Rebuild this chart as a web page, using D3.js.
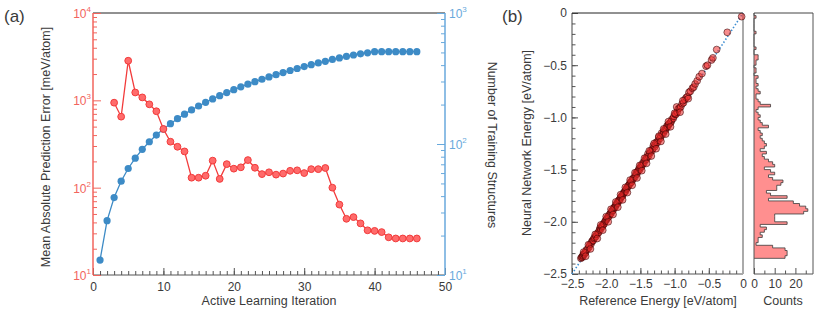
<!DOCTYPE html>
<html>
<head>
<meta charset="utf-8">
<script src="https://cdn.jsdelivr.net/npm/d3@7"></script>
<style>
body { margin: 0; background: #fff; }
svg text { font-family: "Liberation Sans", Arial, Helvetica, sans-serif; }
</style>
</head>
<body>
<svg id="chart" width="831" height="315"></svg>
<script>
// ---- data, panel (a) ----
const errIter = [3, 4, 5, 6, 7, 8, 9, 10, 11, 12, 13, 14, 15, 16, 17, 18, 19, 20, 21, 22, 23, 24,
    25, 26, 27, 28, 29, 30, 31, 32, 33, 34, 35, 36, 37, 38, 39, 40, 41, 42, 43, 44, 45, 46];
const errValues = [940, 650, 2840, 1230, 1080, 900, 750, 470, 336, 294, 260, 130, 130, 137, 204, 126,
    186, 165, 171, 207, 169, 143, 150, 141, 145, 156, 158, 147, 163, 163, 168, 100, 64, 44, 46, 39,
    32.5, 32, 31, 27, 26.2, 26.2, 26.2, 26.2];
const trainIter = [1, 2, 3, 4, 5, 6, 7, 8, 9, 10, 11, 12, 13, 14, 15, 16, 17, 18, 19, 20, 21, 22, 23,
    24, 25, 26, 27, 28, 29, 30, 31, 32, 33, 34, 35, 36, 37, 38, 39, 40, 41, 42, 43, 44, 45, 46];
const trainCount = [13, 26, 39, 52, 65, 78, 91, 104, 117, 130, 143, 156, 169, 182, 195, 208, 221, 234,
    247, 260, 273, 286, 299, 312, 325, 338, 351, 364, 377, 390, 403, 416, 428, 442, 454, 466, 478, 488,
    497, 507, 507, 507, 507, 507, 507, 507];
const iterTicks = [0, 10, 20, 30, 40, 50];
const errTicks = [10, 100, 1000, 10000];
const countTicks = [10, 100, 1000];

// ---- data, panel (b) ----
const refE = [-2.37, -2.36, -2.35, -2.34, -2.34, -2.33, -2.32, -2.31, -2.30, -2.29, -2.27, -2.25, -2.24,
    -2.22, -2.21, -2.20, -2.19, -2.18, -2.17, -2.15, -2.14, -2.12, -2.11, -2.10, -2.09, -2.08, -2.07,
    -2.06, -2.05, -2.04, -2.03, -2.02, -2.01, -2.00, -1.99, -1.98, -1.97, -1.96, -1.95, -1.94, -1.93,
    -1.92, -1.91, -1.90, -1.89, -1.88, -1.87, -1.86, -1.85, -1.84, -1.83, -1.82, -1.81, -1.80, -1.79,
    -1.78, -1.77, -1.76, -1.75, -1.74, -1.73, -1.72, -1.71, -1.70, -1.69, -1.68, -1.67, -1.66, -1.65,
    -1.64, -1.63, -1.62, -1.61, -1.60, -1.58, -1.57, -1.56, -1.55, -1.54, -1.53, -1.52, -1.51, -1.50,
    -1.49, -1.48, -1.47, -1.46, -1.45, -1.43, -1.42, -1.41, -1.40, -1.39, -1.38, -1.36, -1.35, -1.33,
    -1.32, -1.31, -1.29, -1.28, -1.27, -1.25, -1.24, -1.23, -1.21, -1.20, -1.19, -1.17, -1.16, -1.15,
    -1.13, -1.12, -1.11, -1.10, -1.09, -1.08, -1.06, -1.05, -1.04, -1.02, -1.01, -0.99, -0.98, -0.96,
    -0.95, -0.97, -0.93, -0.91, -0.89, -0.87, -0.85, -0.83, -0.81, -0.79, -0.77, -0.74, -0.72, -0.70,
    -0.67, -0.64, -0.60, -0.54, -0.52, -0.46, -0.44, -0.385, -0.23, -0.02,
    -2.33, -2.30, -2.26, -2.23, -2.16, -2.13, -2.08, -2.05, -2.00, -1.97, -1.93, -1.90, -1.86, -1.83,
    -1.79, -1.76, -1.72, -1.69, -1.65, -1.62, -1.58, -1.55, -1.51, -1.48, -1.44, -1.41, -1.37, -1.34,
    -1.30, -1.27, -1.23, -1.20, -1.16, -1.13, -1.09, -1.06, -1.00, -0.92, -0.88, -0.80];
const nnE = [-2.35, -2.34, -2.34, -2.33, -2.32, -2.31, -2.31, -2.30, -2.29, -2.27, -2.26, -2.24, -2.22,
    -2.21, -2.19, -2.18, -2.18, -2.16, -2.15, -2.14, -2.12, -2.11, -2.10, -2.08, -2.06, -2.07, -2.05,
    -2.04, -2.04, -2.02, -2.02, -2.00, -1.99, -1.98, -1.97, -1.96, -1.95, -1.95, -1.93, -1.92, -1.92,
    -1.90, -1.89, -1.89, -1.87, -1.86, -1.86, -1.84, -1.83, -1.82, -1.82, -1.80, -1.79, -1.79, -1.77,
    -1.76, -1.75, -1.75, -1.73, -1.72, -1.71, -1.71, -1.69, -1.68, -1.67, -1.66, -1.65, -1.64, -1.63,
    -1.62, -1.62, -1.60, -1.59, -1.58, -1.57, -1.55, -1.53, -1.54, -1.52, -1.51, -1.49, -1.50, -1.48,
    -1.46, -1.47, -1.45, -1.43, -1.44, -1.41, -1.39, -1.40, -1.38, -1.35, -1.37, -1.34, -1.32, -1.32,
    -1.30, -1.27, -1.28, -1.26, -1.24, -1.24, -1.22, -1.19, -1.20, -1.18, -1.15, -1.16, -1.14, -1.12,
    -1.12, -1.10, -1.08, -1.09, -1.07, -1.06, -1.05, -1.04, -1.02, -1.01, -0.99, -0.97, -0.97, -0.95,
    -0.92, -0.90, -0.91, -0.90, -0.87, -0.86, -0.83, -0.81, -0.80, -0.76, -0.75, -0.72, -0.71, -0.68,
    -0.65, -0.61, -0.58, -0.51, -0.50, -0.45, -0.43, -0.35, -0.185, -0.035,
    -2.29, -2.33, -2.22, -2.26, -2.12, -2.16, -2.03, -2.08, -1.95, -2.00, -1.88, -1.93, -1.81, -1.86,
    -1.74, -1.79, -1.67, -1.72, -1.60, -1.65, -1.53, -1.58, -1.46, -1.51, -1.39, -1.44, -1.32, -1.37,
    -1.25, -1.30, -1.18, -1.23, -1.11, -1.16, -1.04, -1.09, -0.96, -0.95, -0.84, -0.82];
// histogram of NN energies, bins of 0.025 eV from 0 downwards
const histBinWidth = 0.025;
const histCounts = [0, 1, 0, 0, 0, 0, 0, 1, 0, 0, 0, 0, 0, 1, 0, 0, 2, 2, 1, 1, 0, 1, 1, 0, 2, 1, 1, 2,
    1, 2, 3, 1, 1, 2, 3, 8, 2, 1, 2, 3, 2, 3, 4, 7, 2, 3, 4, 3, 4, 5, 6, 5, 3, 6, 4, 5, 7, 9, 10, 5, 8,
    10, 7, 9, 14, 13, 11, 11, 6, 8, 16, 7, 19, 22, 25, 26, 24, 10, 10, 10, 16, 3, 6, 5, 3, 4, 2, 2, 1,
    9, 15, 16, 16, 15];
const energyTicks = [-2.5, -2, -1.5, -1, -0.5, 0];
const histTicks = [0, 10, 20];

// ---- colours ----
const red = "#f2645d";
const redLine = "#f23b3b";
const redDot = "#ff6b6b";
const blue = "#3d8bc6";
const blueAxis = "#68a9dc";
const ink = "#3a3a3a";

const svg = d3.select("#chart");

const fmtE = d => d === 0 ? "0" : d3.format(".1f")(d).replace("-", "\u2212");

function styleAxis(g, color, textColor) {
    g.select(".domain").remove();
    g.selectAll(".tick line").attr("stroke", color);
    g.selectAll(".tick text").attr("fill", textColor || ink).attr("font-size", 12)
        .attr("font-family", '"Liberation Sans", Arial, sans-serif');
    return g;
}

function spine(x1, y1, x2, y2, color, w) {
    svg.append("line").attr("x1", x1).attr("y1", y1).attr("x2", x2).attr("y2", y2)
        .attr("stroke", color).attr("stroke-width", w || 1);
}

function powLabels(ticks, scale, x, anchor, color) {
    svg.append("g").selectAll("text").data(ticks).join("text")
        .attr("x", x).attr("y", d => scale(d) + 5)
        .attr("text-anchor", anchor).attr("fill", color).attr("font-size", 12)
        .each(function(d) {
            const t = d3.select(this);
            t.append("tspan").text("10");
            t.append("tspan").attr("dy", -6).attr("font-size", 8).text(Math.round(Math.log10(d)));
        });
}

const logMinor = (lo, hi) => d3.range(lo, hi).flatMap(e => [2, 3, 4, 5, 6, 7, 8, 9].map(m => m * 10 ** e));

// ================= panel (a) =================
const xA = d3.scaleLinear().domain([0, 50]).range([93, 445]);
const yErr = d3.scaleLog().domain([10, 1e4]).range([275, 13]);
const yCnt = d3.scaleLog().domain([10, 1000]).range([275, 13]);

// bottom axis
styleAxis(svg.append("g").attr("transform", "translate(0,275)")
    .call(d3.axisBottom(xA).tickValues(d3.range(0, 51)).tickSize(-4).tickFormat("")), "#555");
styleAxis(svg.append("g").attr("transform", "translate(0,275)")
    .call(d3.axisBottom(xA).tickValues(iterTicks).tickSize(-7).tickPadding(7).tickFormat(d3.format("d"))), "#555");
spine(93, 275, 445, 275, "#555");
spine(93, 13, 445, 13, "#222");

// left (error) axis
styleAxis(svg.append("g").attr("transform", "translate(93,0)")
    .call(d3.axisLeft(yErr).tickValues(logMinor(1, 4)).tickSize(-4).tickFormat("")), red);
styleAxis(svg.append("g").attr("transform", "translate(93,0)")
    .call(d3.axisLeft(yErr).tickValues(errTicks).tickSize(-8).tickFormat("")), red);
spine(93, 13, 93, 275, red, 1.5);
powLabels(errTicks, yErr, 91, "end", red);

// right (count) axis
styleAxis(svg.append("g").attr("transform", "translate(445,0)")
    .call(d3.axisRight(yCnt).tickValues(logMinor(1, 3)).tickSize(-4).tickFormat("")), blueAxis);
styleAxis(svg.append("g").attr("transform", "translate(445,0)")
    .call(d3.axisRight(yCnt).tickValues(countTicks).tickSize(-8).tickFormat("")), blueAxis);
spine(445, 13, 445, 275, blueAxis, 1.5);
powLabels(countTicks, yCnt, 449, "start", blueAxis);

// training structures series
const trainPts = trainIter.map((d, i) => [d, trainCount[i]]);
svg.append("path").datum(trainPts)
    .attr("fill", "none").attr("stroke", blue).attr("stroke-width", 1.3)
    .attr("d", d3.line().x(d => xA(d[0])).y(d => yCnt(d[1])));
svg.append("g").selectAll("circle").data(trainPts).join("circle")
    .attr("cx", d => xA(d[0])).attr("cy", d => yCnt(d[1])).attr("r", 3.6)
    .attr("fill", blue);

// error series
const errPts = errIter.map((d, i) => [d, errValues[i]]);
svg.append("path").datum(errPts)
    .attr("fill", "none").attr("stroke", redLine).attr("stroke-width", 1.3)
    .attr("d", d3.line().x(d => xA(d[0])).y(d => yErr(d[1])));
svg.append("g").selectAll("circle").data(errPts).join("circle")
    .attr("cx", d => xA(d[0])).attr("cy", d => yErr(d[1])).attr("r", 3.4)
    .attr("fill", redDot).attr("stroke", redLine).attr("stroke-width", 1);

// titles
svg.append("text").attr("x", 269).attr("y", 305).attr("text-anchor", "middle")
    .attr("font-size", 12.5).attr("fill", ink).text("Active Learning Iteration");
svg.append("text").attr("transform", "translate(50,147) rotate(-90)").attr("text-anchor", "middle")
    .attr("font-size", 12.5).attr("fill", ink).text("Mean Absolute Prediction Error [meV/atom]");
svg.append("text").attr("transform", "translate(488,145) rotate(90)").attr("text-anchor", "middle")
    .attr("font-size", 12.5).attr("fill", ink).text("Number of Training Structures");
svg.append("text").attr("x", 4).attr("y", 22).attr("font-size", 17).attr("fill", ink).text("(a)");

// ================= panel (b) =================
const xB = d3.scaleLinear().domain([-2.5, 0]).range([572, 743]);
const yB = d3.scaleLinear().domain([-2.5, 0]).range([274, 13]);
const xH = d3.scaleLinear().domain([0, 28.5]).range([754, 813]);
const minorE = d3.range(-25, 1).map(d => d / 10);

styleAxis(svg.append("g").attr("transform", "translate(0,274)")
    .call(d3.axisBottom(xB).tickValues(minorE).tickSize(-3.5).tickFormat("")), "#555");
styleAxis(svg.append("g").attr("transform", "translate(0,274)")
    .call(d3.axisBottom(xB).tickValues(energyTicks).tickSize(-6).tickPadding(5).tickFormat(fmtE)), "#555");
styleAxis(svg.append("g").attr("transform", "translate(572,0)")
    .call(d3.axisLeft(yB).tickValues(minorE).tickSize(-3.5).tickFormat("")), "#555");
styleAxis(svg.append("g").attr("transform", "translate(572,0)")
    .call(d3.axisLeft(yB).tickValues(energyTicks).tickSize(-6).tickPadding(5).tickFormat(fmtE)), "#555");
spine(572, 13, 572, 274, "#444");
spine(572, 274, 743, 274, "#555");
spine(572, 13, 743, 13, "#222");
spine(743, 13, 743, 274, "#aaa", 2);

// parity line
svg.append("line")
    .attr("x1", xB(-2.5)).attr("y1", yB(-2.5)).attr("x2", xB(0)).attr("y2", yB(0))
    .attr("stroke", "#3f8fd2").attr("stroke-width", 1.6).attr("stroke-dasharray", "1.5,2");

// scatter points
svg.append("g").selectAll("circle").data(refE.map((d, i) => [d, nnE[i]])).join("circle")
    .attr("cx", d => xB(d[0])).attr("cy", d => yB(d[1])).attr("r", 3.4)
    .attr("fill", "rgba(240,45,45,0.55)").attr("stroke", "rgba(50,0,0,0.7)").attr("stroke-width", 0.8);

// histogram
const histPts = [[0, 0]];
histCounts.forEach((c, i) => {
    histPts.push([c, -i * histBinWidth]);
    histPts.push([c, -(i + 1) * histBinWidth]);
});
histPts.push([0, -histCounts.length * histBinWidth]);
svg.append("path").datum(histPts)
    .attr("fill", "#ff8f8f").attr("stroke", "#3a3a3a").attr("stroke-width", 0.8)
    .attr("d", d3.line().x(d => xH(d[0])).y(d => yB(d[1])));

styleAxis(svg.append("g").attr("transform", "translate(0,274)")
    .call(d3.axisBottom(xH).tickValues([5, 15, 25]).tickSize(-3.5).tickFormat("")), "#555");
styleAxis(svg.append("g").attr("transform", "translate(0,274)")
    .call(d3.axisBottom(xH).tickValues(histTicks).tickSize(-6).tickPadding(5).tickFormat(d3.format("d"))), "#555");
spine(754, 13, 754, 274, "#555");
spine(813, 13, 813, 274, "#555");
spine(754, 13, 813, 13, "#444");
spine(754, 274, 813, 274, "#555");

svg.append("text").attr("x", 658).attr("y", 305).attr("text-anchor", "middle")
    .attr("font-size", 12.5).attr("fill", ink).text("Reference Energy [eV/atom]");
svg.append("text").attr("x", 783).attr("y", 305).attr("text-anchor", "middle")
    .attr("font-size", 12.5).attr("fill", ink).text("Counts");
svg.append("text").attr("transform", "translate(531,143) rotate(-90)").attr("text-anchor", "middle")
    .attr("font-size", 12.5).attr("fill", ink).text("Neural Network Energy [eV/atom]");
svg.append("text").attr("x", 502).attr("y", 22).attr("font-size", 17).attr("fill", ink).text("(b)");
</script>
</body>
</html>
